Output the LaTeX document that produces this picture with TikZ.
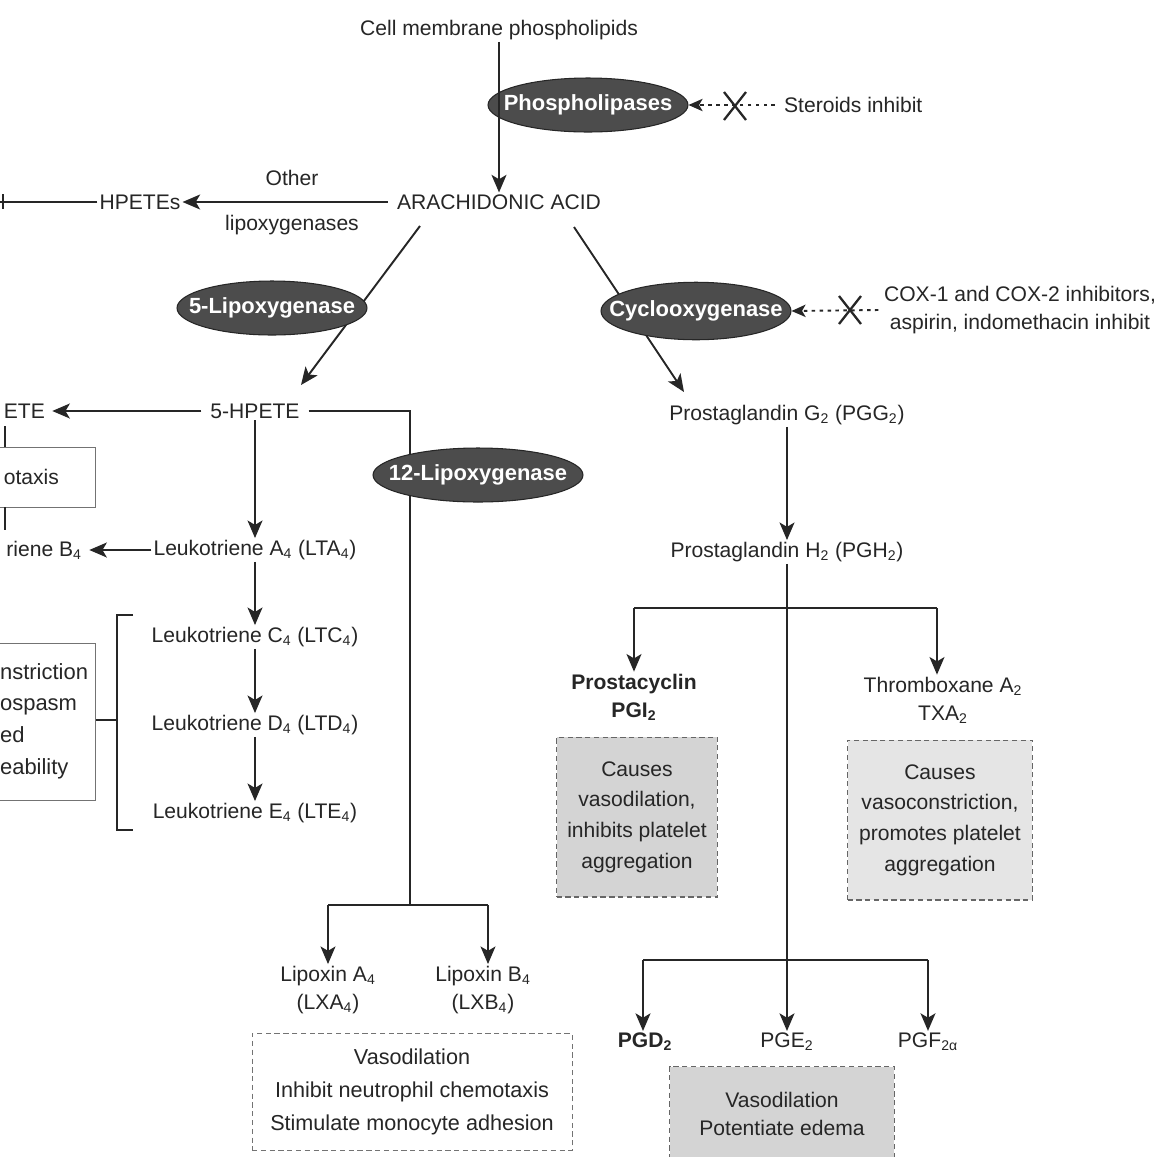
\documentclass[tikz,border=0pt]{standalone}
\usepackage{fontspec}
\setmainfont{Liberation Sans}
\usetikzlibrary{arrows.meta,shapes.geometric}
\newcommand\mysub[1]{\textsubscript{#1}}
\begin{document}
\begin{tikzpicture}[x=0.02cm,y=-0.02cm,
  every node/.style={text=black!85},
  txt/.style={font=\fontsize{12}{16}\selectfont, inner sep=1pt, align=center},
  txtb/.style={txt, font=\fontsize{12}{16}\selectfont\bfseries},
  enz/.style={ellipse, fill=black!70, draw=black!85, line width=0.6pt, inner sep=0pt},
  enzt/.style={text=white, font=\fontsize{12.5}{14}\selectfont\bfseries, inner sep=0pt},
  ln/.style={line width=1.1pt, draw=black!85},
  arr/.style={ln, -{Stealth[length=10pt,width=8.5pt,inset=2.5pt]}},
  inh/.style={line width=1.1pt, draw=black!85, dash pattern=on 2pt off 2.5pt, -{Stealth[length=8pt,width=7pt,inset=2pt]}},
  xmark/.style={line width=1.3pt, draw=black!85},
  thinbox/.style={draw=black!55, line width=0.5pt},
  shbox/.style={draw=black!60, line width=0.6pt, densely dashed, fill=black!17, align=center,
     font=\fontsize{12}{17.5}\selectfont},
]
\useasboundingbox (0,0) rectangle (1157,1157);
\fill[white] (0,0) rectangle (1157,1157);

% ---------- top ----------
\node[txt] (cmp) at (499,30) {Cell membrane phospholipids};
\node[enz, minimum width=4cm, minimum height=1.08cm] (phos) at (588,105) {};
\node[enzt] (phost) at (phos) {Phospholipases};
\node[txt] (aa) at (499,202) {ARACHIDONIC ACID};
\draw[arr] (cmp.south) -- (cmp.south |- aa.north);

\node[txt, anchor=west] (ster) at (782,105) {Steroids inhibit};
\draw[inh] ([xshift=-4pt]ster.west) -- (phos.east);
\draw[xmark] (724,92) -- (746,120) (746,92) -- (724,120);

% ---------- other lipoxygenases ----------
\node[txt] (hpetes) at (140,202) {HPETEs};
\draw[arr] ([xshift=-4pt]aa.west) -- (hpetes.east);
\node[txt] (other) at (292,178) {Other};
\node[txt] (lipox) at (292,225) {lipoxygenases};
\coordinate (hleft) at (0,200);
\draw[ln] (hpetes.west) -- (hpetes.west -| hleft);
\draw[ln] (3,194) -- (3,209);

% ---------- 5-lipoxygenase branch ----------
\coordinate (a5s) at (420,226);
\coordinate (a5e) at (301,385);
\draw[arr] (a5s) -- (a5e);
\node[enz, minimum width=3.8cm, minimum height=1.08cm] (lox5) at (272,308) {};
\node[enzt] (lox5t) at (lox5) {5-Lipoxygenase};

\node[txt] (h5) at (255,411) {5-HPETE};
\node[txt, anchor=east] (hete) at (47,411) {ETE};
\draw[arr] ([xshift=-4pt]h5.west) -- ([xshift=3pt]hete.east);

% left fragments
\draw[thinbox] (0,447) -- (95,447) -- (95,507) -- (0,507);
\node[txt, anchor=east] (chemo) at (61,477) {otaxis};
\draw[ln, line width=1.5pt] (5,426) -- (5,447) (5,507) -- (5,530);

\node[txt] (lta) at (255,550) {Leukotriene A\mysub{4} (LTA\mysub{4})};
\node[txt, anchor=east] (ltb) at (84,550) {riene B\mysub{4}};
\draw[arr] (lta.west) -- ([xshift=3pt]ltb.east);
\draw[arr] (h5.south) -- (lta.north);

\node[txt] (ltc) at (255,637) {Leukotriene C\mysub{4} (LTC\mysub{4})};
\node[txt] (ltd) at (255,725) {Leukotriene D\mysub{4} (LTD\mysub{4})};
\node[txt] (lte) at (255,813) {Leukotriene E\mysub{4} (LTE\mysub{4})};
\draw[arr] (lta.south) -- (ltc.north);
\draw[arr] (ltc.south) -- (ltd.north);
\draw[arr] (ltd.south) -- (lte.north);

% bracket and left box
\coordinate (brt) at (133,615);
\coordinate (brtl) at (117,615);
\coordinate (brbl) at (117,830);
\coordinate (brb) at (133,830);
\coordinate (brm) at (117,720);
\coordinate (boxr) at (95,720);
\draw[ln, line width=0.9pt] (brt) -- (brtl) -- (brbl) -- (brb);
\draw[ln, line width=1.4pt] (boxr) -- (brm);
\draw[thinbox] (0,643) -- (95,643) -- (95,800) -- (0,800);
\node[txt, anchor=west, align=left, font=\fontsize{12.5}{18}\selectfont] (bron) at (-2,721)
  {nstriction\\ospasm\\ed\\eability};

% ---------- 12-lipoxygenase branch ----------
\coordinate (c12) at (410,411);
\coordinate (c12b) at (410,905);
\draw[ln] ([xshift=4pt]h5.east) -- (c12) -- (c12b);
\node[enz, minimum width=4.2cm, minimum height=1.08cm] (lox12) at (478,475) {};
\node[enzt] (lox12t) at (lox12) {12-Lipoxygenase};

\coordinate (lxl) at (328,905);
\coordinate (lxr) at (488,905);
\draw[ln] (lxl) -- (lxr);
\node[txt] (lxa) at (328,990) {Lipoxin A\mysub{4}\\(LXA\mysub{4})};
\node[txt] (lxb) at (483,990) {Lipoxin B\mysub{4}\\(LXB\mysub{4})};
\draw[arr] (lxl) -- (lxl |- lxa.north);
\draw[arr] (lxr) -- (lxr |- lxb.north);
\node[thinbox, densely dashed, minimum width=6.4cm, minimum height=2.34cm, align=center,
      font=\fontsize{12.3}{19}\selectfont] (lxbox) at (412,1092)
  {Vasodilation\\Inhibit neutrophil chemotaxis\\Stimulate monocyte adhesion};

% ---------- cyclooxygenase branch ----------
\coordinate (acs) at (574,227);
\coordinate (ace) at (684,392);
\draw[arr] (acs) -- (ace);
\node[enz, minimum width=3.8cm, minimum height=1.15cm] (cox) at (696,311) {};
\node[enzt] (coxtt) at (cox) {Cyclooxygenase};

\node[txt] (coxt) at (1020,310) {COX-1 and COX-2 inhibitors,\\aspirin, indomethacin inhibit};
\draw[inh] ([xshift=-2pt]coxt.west) -- (cox.east);
\draw[xmark] (839,296) -- (861,324) (861,296) -- (839,324);

\node[txt] (pgg) at (787,415) {Prostaglandin G\mysub{2} (PGG\mysub{2})};
\node[txt] (pgh) at (787,552) {Prostaglandin H\mysub{2} (PGH\mysub{2})};
\draw[arr] (pgg.south) -- (pgh.north);

\coordinate (b1l) at (634,608);
\coordinate (b1r) at (937,608);
\draw[ln] (b1l) -- (b1r);
\node[txtb] (pgi) at (634,697) {Prostacyclin\\PGI\mysub{2}};
\node[txt] (txa) at (943,700) {Thromboxane A\mysub{2}\\TXA\mysub{2}};
\draw[arr] (b1l) -- (b1l |- pgi.north);
\draw[arr] (b1r) -- (b1r |- txa.north);

\node[shbox, minimum width=3.22cm, minimum height=3.2cm] (pgibox) at (637,817)
  {Causes\\vasodilation,\\inhibits platelet\\aggregation};
\node[shbox, fill=black!10, minimum width=3.7cm, minimum height=3.2cm] (txabox) at (940,820)
  {Causes\\vasoconstriction,\\promotes platelet\\aggregation};

\node[txtb] (pgd) at (645,1042) {PGD\mysub{2}};
\node[txt] (pge) at (787,1042) {PGE\mysub{2}};
\node[txt] (pgf) at (928,1042) {PGF\mysub{2α}};
\draw[arr] (pgh.south) -- (pge.north);
\coordinate (b2l) at (643,960);
\coordinate (b2r) at (928,960);
\draw[ln] (b2l) -- (b2r);
\draw[arr] (b2l) -- (b2l |- pgd.north);
\draw[arr] (b2r) -- (b2r |- pgf.north);

\node[shbox, minimum width=4.5cm, minimum height=1.9cm, font=\fontsize{12}{16}\selectfont] (pgebox) at (782,1114)
  {Vasodilation\\Potentiate edema};
\end{tikzpicture}
\end{document}
